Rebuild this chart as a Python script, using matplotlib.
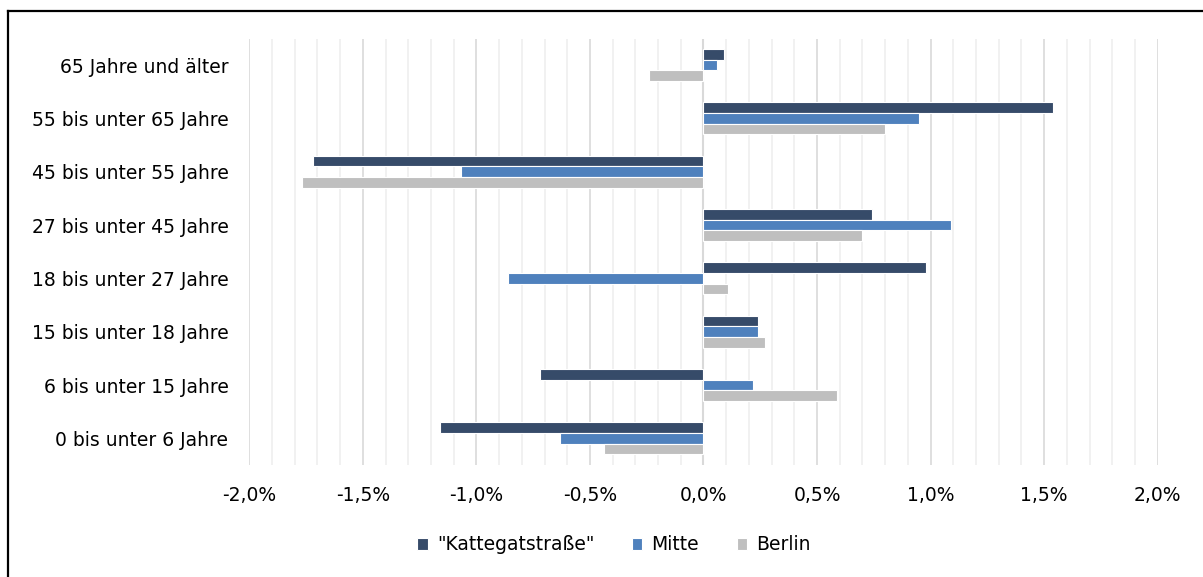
import matplotlib
matplotlib.use("Agg")
import matplotlib.pyplot as plt
from matplotlib.lines import Line2D
import numpy as np

categories = ["0 bis unter 6 Jahre", "6 bis unter 15 Jahre", "15 bis unter 18 Jahre",
              "18 bis unter 27 Jahre", "27 bis unter 45 Jahre", "45 bis unter 55 Jahre",
              "55 bis unter 65 Jahre", "65 Jahre und älter"]
kattegat = [-1.16, -0.72, 0.24, 0.98, 0.74, -1.72, 1.54, 0.09]
mitte = [-0.63, 0.22, 0.24, -0.86, 1.09, -1.07, 0.95, 0.06]
berlin = [-0.44, 0.59, 0.27, 0.11, 0.70, -1.77, 0.80, -0.24]
series_names = ['"Kattegatstraße"', "Mitte", "Berlin"]
colors = ["#364b69", "#4f81bd", "#bfbfbf"]

plt.rcParams['font.family'] = ['DejaVu Sans']
fs = 13.5

fig = plt.figure(figsize=(12.03, 5.77), dpi=100)
ax = fig.add_axes([249.3/1203, 1-465/577, (1157.7-249.3)/1203, (465-38.5)/577])

y = np.arange(len(categories))
h = 0.2
for vals, off, c, name in zip([kattegat, mitte, berlin], [h, 0, -h], colors, series_names):
    ax.barh(y + off, vals, height=h, color=c, edgecolor="white", linewidth=0.8, label=name, zorder=3)

ax.set_xlim(-2.0, 2.0)
ax.set_ylim(-0.5, len(categories) - 0.5)
ax.set_yticks(y)
ax.set_yticklabels(categories, fontsize=fs)
major = np.arange(-2.0, 2.01, 0.5)
ax.set_xticks(major)
ax.set_xticklabels([f"{v:.1f}%".replace(".", ",") for v in major], fontsize=fs)
ax.set_xticks(np.arange(-2.0, 2.01, 0.1), minor=True)
ax.grid(which="minor", axis="x", color="#efefef", linewidth=1.2, zorder=0)
ax.grid(which="major", axis="x", color="#d9d9d9", linewidth=1.2, zorder=1)
ax.axvline(0, color="#d9d9d9", linewidth=1.5, zorder=2)
ax.tick_params(axis="both", which="both", length=0)
ax.tick_params(axis="y", pad=15)
ax.tick_params(axis="x", pad=15)
for s in ax.spines.values():
    s.set_visible(False)

leg = fig.legend(loc="center", bbox_to_anchor=(614/1203, 1-545/577), ncol=3, frameon=False,
                 fontsize=fs, handlelength=0.55, handleheight=0.55, columnspacing=2.0, handletextpad=0.5)

fig.add_artist(Line2D([8/1203, 8/1203], [0, 1-11/577], color="black", linewidth=1.6, transform=fig.transFigure))
fig.add_artist(Line2D([8/1203, 1], [1-11/577, 1-11/577], color="black", linewidth=1.6, transform=fig.transFigure))

fig.savefig("out.png", dpi=100, facecolor="white")
